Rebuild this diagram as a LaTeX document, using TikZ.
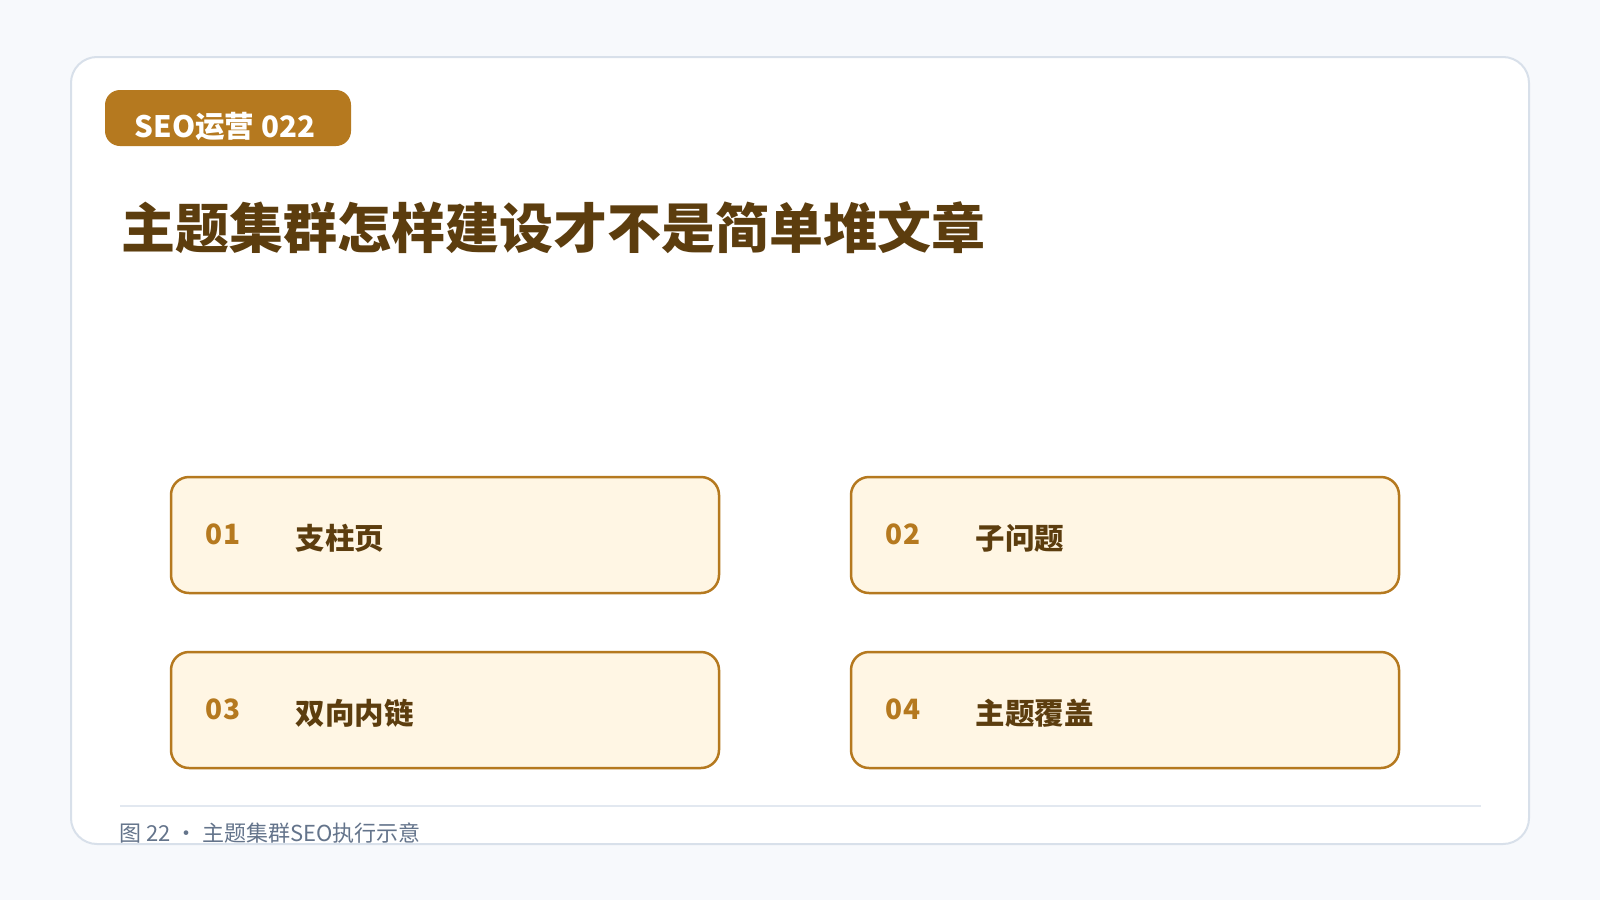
\documentclass[tikz,border=0pt]{standalone}
\usepackage{fontspec}
\setmainfont{Noto Sans CJK SC}
\definecolor{pagebg}{HTML}{F7F9FC}
\definecolor{cardline}{HTML}{D8E0EA}
\definecolor{seobrown}{HTML}{B5791F}
\definecolor{titlebrown}{HTML}{5C3D0E}
\definecolor{boxfill}{HTML}{FFF6E4}
\definecolor{ruleline}{HTML}{E2E8F0}
\definecolor{captiongrey}{HTML}{64748B}
\usetikzlibrary{calc}

\begin{document}
\begin{tikzpicture}[x=1pt,y=-1pt,
  topicbox/.style={draw=seobrown, line width=2.5pt, fill=boxfill, rounded corners=18pt,
    minimum width=548pt, minimum height=116pt, inner sep=0pt},
  numlabel/.style={anchor=base west, inner sep=0pt, text=seobrown,
    font=\fontsize{28}{30}\selectfont\bfseries},
  itemlabel/.style={anchor=base west, inner sep=0pt, text=titlebrown,
    font=\fontsize{29.5}{32}\selectfont\bfseries}]
  \fill[pagebg] (0,0) rectangle (1600,900);
  \useasboundingbox (0,0) rectangle (1600,900);
  \draw[cardline, line width=2pt, fill=white, rounded corners=26pt] (71,57) rectangle (1529,844);
  \node[fill=seobrown, rounded corners=15pt, minimum width=246pt, minimum height=56pt, inner sep=0pt] (badge) at (228,118) {};
  \node[anchor=base, inner sep=0pt, text=white, font=\fontsize{29.5}{32}\selectfont\bfseries] (badgetext) at (225,137) {SEO运营 022};
  \node[anchor=base west, inner sep=0pt, text=titlebrown, font=\fontsize{54}{60}\selectfont\bfseries] (title) at (121,248) {主题集群怎样建设才不是简单堆文章};
  \foreach \i/\x/\y/\txt in {1/445/535/支柱页, 2/1125/535/子问题, 3/445/710/双向内链, 4/1125/710/主题覆盖} {
    \node[topicbox] (B\i) at (\x,\y) {};
    \node[numlabel] (N\i) at ($(B\i.west)+(36,9)$) {0\i};
    \node[itemlabel] (L\i) at ($(B\i.west)+(126,14)$) {\txt};
  }
  \coordinate (R1) at (120,806);
  \coordinate (R2) at (1481,806);
  \draw[ruleline, line width=2pt] (R1) -- (R2);
  \node[anchor=base west, inner sep=0pt, text=captiongrey, font=\fontsize{22}{24}\selectfont] (caption) at (119,841) {图 22 · 主题集群SEO执行示意};
\end{tikzpicture}
\end{document}
